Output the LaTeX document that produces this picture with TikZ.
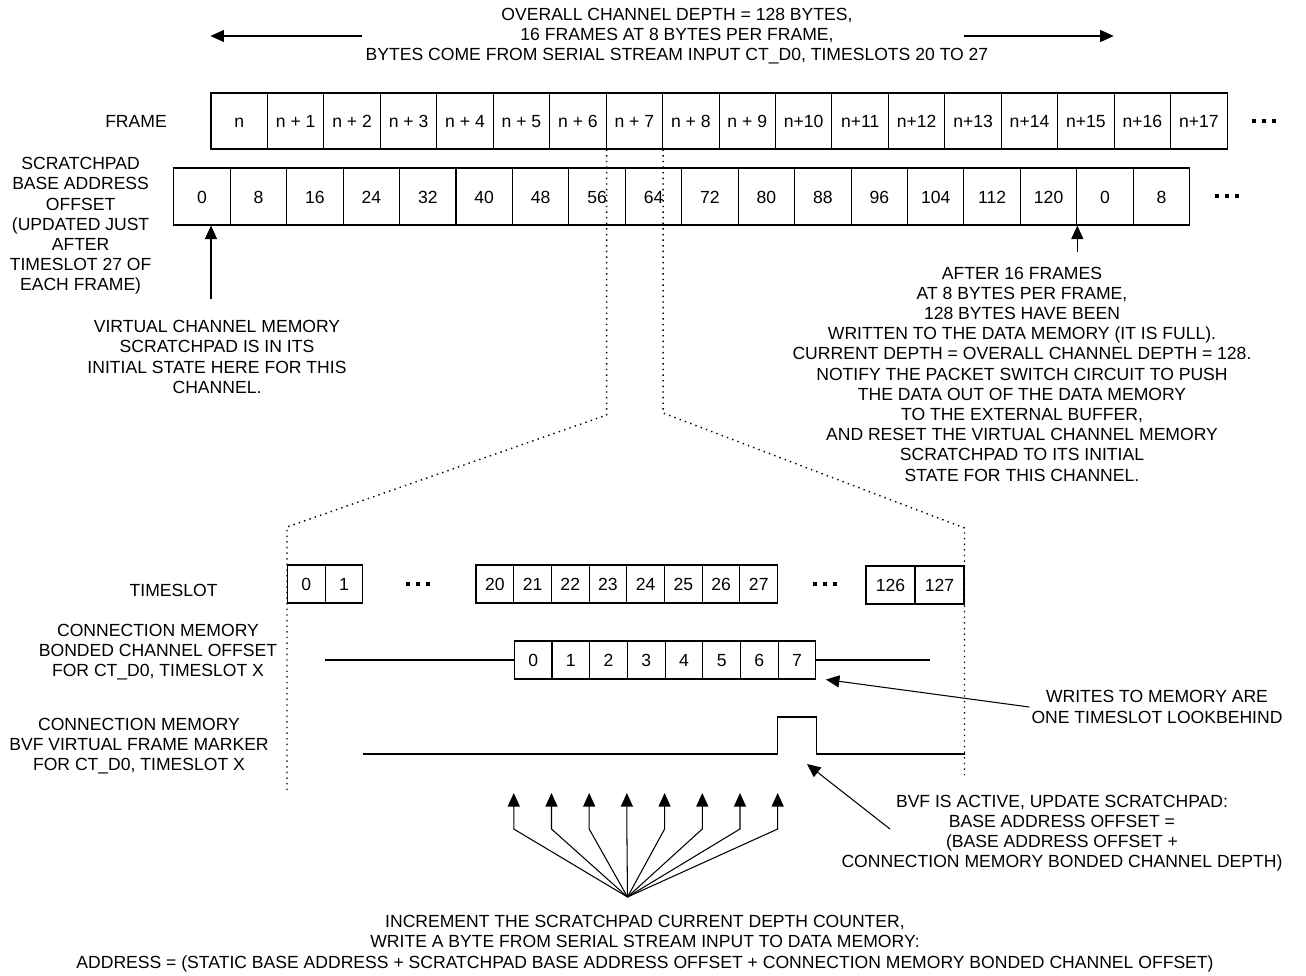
\documentclass[tikz,border=0pt]{standalone}
\usepackage{fontspec}
\setmainfont{Liberation Sans}
\usetikzlibrary{arrows.meta}
\newcommand{\tdots}{\rule{2.3pt}{2.3pt}\hspace{3.4pt}\rule{2.3pt}{2.3pt}\hspace{3.4pt}\rule{2.3pt}{2.3pt}}

\begin{document}
\begin{tikzpicture}[x=0.02cm,y=-0.02cm,
  line width=0.6pt,
  every node/.style={font=\fontsize{10}{11.5}\selectfont, inner sep=1pt},
  note/.style={align=center},
  cell/.style={draw, minimum width=1.129cm, minimum height=1.12cm, inner sep=0pt, text height=1.5ex, text depth=0pt},
  pad/.style={draw, minimum width=1.129cm, minimum height=1.14cm, inner sep=0pt, text height=1.5ex, text depth=0pt},
  slot/.style={draw, minimum width=0.754cm, minimum height=0.76cm, inner sep=0pt, text height=1.5ex, text depth=0pt},
  wide slot/.style={slot, minimum width=0.98cm},
  arr/.style={-{Triangle[length=0.27cm,width=0.24cm]}},
  zoomline/.style={line width=0.8pt, dash pattern=on 0.8pt off 2.4pt}
]
\useasboundingbox (0,0) rectangle (1306,975);

\node[note] (depth) at (677,36) {OVERALL CHANNEL DEPTH = 128 BYTES,\\16 FRAMES AT 8 BYTES PER FRAME,\\BYTES COME FROM SERIAL STREAM INPUT CT\_D0, TIMESLOTS 20 TO 27};

\node (framelbl) at (136,121) {FRAME};
\foreach \t [count=\i from 0] in {n,n + 1,n + 2,n + 3,n + 4,n + 5,n + 6,n + 7,n + 8,n + 9,n+10,n+11,n+12,n+13,n+14,n+15,n+16,n+17}
  \node[cell] (f\i) at ({211+56.45*(\i+0.5)},121) {\t};
\node (fdots) at (1264,121) {\tdots};

\coordinate (lt) at (362,36);
\coordinate (rt) at (964,36);
\draw[arr] (lt) -- (lt -| f0.west);
\draw[arr] (rt) -- (rt -| f16.west);

\node[note] (padlbl) at (80.6,226) {SCRATCHPAD\\BASE ADDRESS\\OFFSET\\(UPDATED JUST\\AFTER\\TIMESLOT 27 OF\\EACH FRAME)};
\foreach \t [count=\i from 0] in {0,8,16,24,32,40,48,56,64,72,80,88,96,104,112,120,0,8}
  \node[pad] (s\i) at ({173.8+56.44*(\i+0.5)},196.5) {\t};
\node (sdots) at (1227,196) {\tdots};

\node[note] (initial) at (217,357) {VIRTUAL CHANNEL MEMORY\\SCRATCHPAD IS IN ITS\\INITIAL STATE HERE FOR THIS\\CHANNEL.};
\coordinate (vtail) at (211,299);
\draw[arr] (vtail) -- (vtail |- s0.south);

\node[note] (full) at (1022,374) {AFTER 16 FRAMES\\AT 8 BYTES PER FRAME,\\128 BYTES HAVE BEEN\\WRITTEN TO THE DATA MEMORY (IT IS FULL).\\CURRENT DEPTH = OVERALL CHANNEL DEPTH = 128.\\NOTIFY THE PACKET SWITCH CIRCUIT TO PUSH\\THE DATA OUT OF THE DATA MEMORY\\TO THE EXTERNAL BUFFER,\\AND RESET THE VIRTUAL CHANNEL MEMORY\\SCRATCHPAD TO ITS INITIAL\\STATE FOR THIS CHANNEL.};
\coordinate (ftail) at (1077.3,252);
\draw[arr] (ftail) -- (ftail |- s15.south);

\node (slotlbl) at (173.6,590) {TIMESLOT};
\foreach \i in {0,1}
  \node[slot] (t\i) at ({287.5+37.7*(\i+0.5)},584) {\i};
\node (tdots1) at (418,584) {\tdots};
\foreach \i in {20,...,27}
  \node[slot] (t\i) at ({476+37.7*(\i-19.5)},584) {\i};
\node (tdots2) at (825,584) {\tdots};
\node[wide slot] (t126) at (890.5,585) {126};
\node[wide slot] (t127) at (939.5,585) {127};

\draw[zoomline] (f6.south east) -- (f6.south east |- 0,415) -- (t0.west |- 0,527) -- (t0.west |- 0,792);
\draw[zoomline] (f7.south east) -- (f7.south east |- 0,413) -- (t127.east |- 0,528) -- (t127.east |- 0,775);

\node[note] (bondlbl) at (158,652) {CONNECTION MEMORY\\BONDED CHANNEL OFFSET\\FOR CT\_D0, TIMESLOT X};
\foreach \i in {0,...,7}
  \node[slot] (b\i) at ({514.3+37.7*(\i+0.5)},660) {\i};
\draw (b0.west) -- ++(-189,0);
\draw (b7.east) -- ++(113.5,0);

\node[note] (lookbehind) at (1157,707) {WRITES TO MEMORY ARE\\ONE TIMESLOT LOOKBEHIND};
\draw[arr] (lookbehind.west) -- ([xshift=0.19cm]b7.south east);

\node[note] (bvflbl) at (139,746) {CONNECTION MEMORY\\BVF VIRTUAL FRAME MARKER\\FOR CT\_D0, TIMESLOT X};
\draw (363,754) -| (b7.west |- 0,717) -| (b7.east |- 0,754) -- (965,754);

\node[note] (active) at (1062,833) {BVF IS ACTIVE, UPDATE SCRATCHPAD:\\BASE ADDRESS OFFSET =\\(BASE ADDRESS OFFSET +\\CONNECTION MEMORY BONDED CHANNEL DEPTH)};
\coordinate (atail) at (890,829);
\coordinate (atip) at (807,764);
\draw[arr] (atail) -- (atip);

\node[note] (write) at (645,943.5) {INCREMENT THE SCRATCHPAD CURRENT DEPTH COUNTER,\\WRITE A BYTE FROM SERIAL STREAM INPUT TO DATA MEMORY:\\ADDRESS = (STATIC BASE ADDRESS + SCRATCHPAD BASE ADDRESS OFFSET + CONNECTION MEMORY BONDED CHANNEL OFFSET)};
\coordinate (fan) at (627.5,897);
\foreach \i in {0,...,7}
  \draw[arr] (fan) -- (b\i.west |- 0,829) -- (b\i.west |- 0,793);
\end{tikzpicture}
\end{document}
